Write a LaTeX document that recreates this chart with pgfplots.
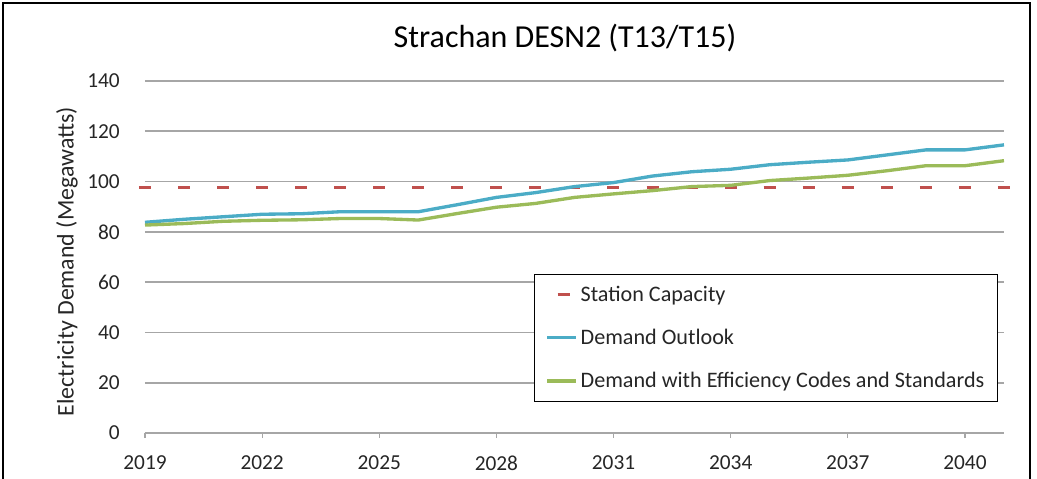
\documentclass[border=0pt]{standalone}
\usepackage{pgfplots}
\pgfplotsset{compat=1.18}
\usepackage{fontspec}
\setmainfont{Carlito}
\definecolor{cblue}{HTML}{4BACC6}
\definecolor{cgreen}{HTML}{9BBB59}
\definecolor{cred}{HTML}{C0504D}
\definecolor{cgrid}{HTML}{A6A6A6}
\definecolor{ctext}{HTML}{262626}
\begin{document}
\begin{tikzpicture}[x=1pt,y=1pt]
\useasboundingbox (-108.75,-33.75) rectangle (669,324.75);
\draw[line width=1.5pt] (-106.5,-60) rectangle (663.75,322.5);
\begin{axis}[
  at={(0,0)}, anchor=south west,
  scale only axis, width=644.25pt, height=264pt,
  xmin=2019, xmax=2041, ymin=0, ymax=140,
  xtick={2019,2022,...,2040}, ytick={0,20,...,140},
  /pgf/number format/1000 sep={},
  /pgf/number format/assume math mode=true,
  font=\fontsize{16}{19}\selectfont,
  tick label style={font=\fontsize{16}{19}\selectfont, text=ctext},
  separate axis lines,
  axis x line*=bottom, axis y line*=left,
  x axis line style={cgrid, line width=1.2pt, -},
  y axis line style={draw=none},
  ymajorgrids, major grid style={cgrid, line width=1.2pt},
  tick align=outside, major tick length=3.75pt,
  xtick style={cgrid, line width=0.9pt},
  ytick style={draw=none},
  yticklabel style={anchor=east, inner sep=0pt, xshift=-15pt},
  xticklabel style={anchor=north, inner sep=0pt, yshift=-13pt},
  ylabel={Electricity Demand (Megawatts)},
  ylabel style={at={(axis description cs:-0.091,0.487)}, anchor=center, font=\fontsize{17.9}{21}\selectfont, text=ctext},
  title={Strachan DESN2 (T13/T15)},
  title style={at={(axis description cs:0.489,1)}, anchor=center, yshift=26pt, font=\fontsize{24}{28}\selectfont, text=black},
  clip=false,
  legend style={at={(axis description cs:0.453,0.452)}, anchor=north west, draw=black, line width=0.8pt,
    font=\fontsize{16.6}{19}\selectfont, text=ctext, row sep=15.5pt, inner xsep=8pt, inner ysep=6.5pt},
  legend cell align=left,
]
\addplot[cred, line width=2.3pt, dash pattern=on 9pt off 20.28pt,
  legend image code/.code={\draw[cred, line width=2.3pt, solid] (8pt,0pt)--(17pt,0pt);}]
  coordinates {(2018.846,97.5) (2041.154,97.5)};
\addlegendentry{Station Capacity}
\addplot[cblue, line width=2.5pt,
  legend image code/.code={\draw[cblue, line width=2.5pt] (0pt,0pt)--(22pt,0pt);}]
  coordinates {(2019,83.8) (2020,85.0) (2021,86.0) (2022,87.0) (2023,87.2) (2024,88.0) (2025,88.0) (2026,88.0) (2027,90.8) (2028,93.7) (2029,95.6) (2030,98.0) (2031,99.6) (2032,102.2) (2033,103.9) (2034,104.9) (2035,106.7) (2036,107.7) (2037,108.6) (2038,110.6) (2039,112.6) (2040,112.6) (2041,114.6)};
\addlegendentry{Demand Outlook}
\addplot[cgreen, line width=2.5pt,
  legend image code/.code={\draw[cgreen, line width=2.5pt] (0pt,0pt)--(22pt,0pt);}]
  coordinates {(2019,82.7) (2020,83.3) (2021,84.2) (2022,84.6) (2023,84.8) (2024,85.3) (2025,85.3) (2026,84.7) (2027,87.3) (2028,89.8) (2029,91.3) (2030,93.7) (2031,95.1) (2032,96.4) (2033,98.0) (2034,98.5) (2035,100.4) (2036,101.4) (2037,102.5) (2038,104.3) (2039,106.3) (2040,106.3) (2041,108.3)};
\addlegendentry{Demand with Efficiency Codes and Standards}
\end{axis}
\end{tikzpicture}
\end{document}
